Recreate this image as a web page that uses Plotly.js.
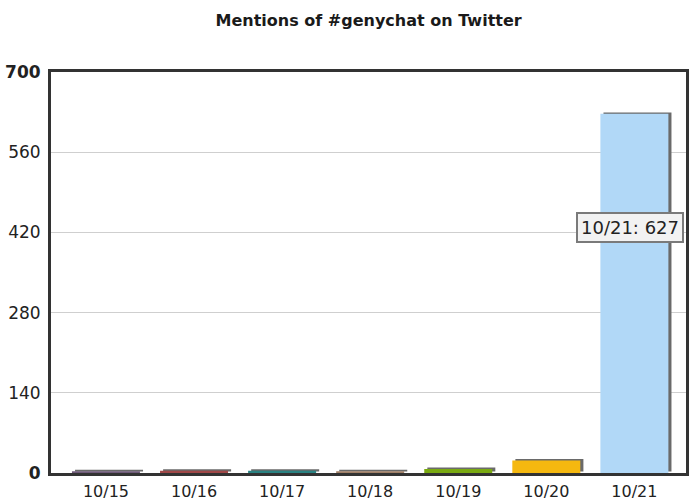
<!DOCTYPE html>
<html>
<head>
<meta charset="utf-8">
<script src="https://cdn.plot.ly/plotly-3.0.1.min.js"></script>
<style>html,body{margin:0;padding:0;background:#fff;}#chart{width:689px;height:502px;}</style>
</head>
<body>
<div id="chart"></div>
<script>
var categories = ["10/15", "10/16", "10/17", "10/18", "10/19", "10/20", "10/21"];
var mentions = [3, 4, 4, 3, 7, 22, 627];
var barColors = ["#6e5a78", "#a04848", "#2a8282", "#a08068", "#7aaa12", "#f5b80f", "#b1d8f7"];
var yTickVals = [0, 140, 280, 420, 560, 700];
var yTickText = ["<b>0</b>", "140", "280", "420", "560", "<b>700</b>"];
var tooltipText = categories[6] + ": " + mentions[6];

var barWidth = 0.772;
var shadow = {
  type: "bar", x: categories, y: mentions,
  base: 2.5, width: barWidth, offset: -barWidth / 2 + 0.035,
  marker: {color: "#6a6a6a"}, hoverinfo: "skip", showlegend: false
};
var bars = {
  type: "bar", x: categories, y: mentions,
  width: barWidth, offset: -barWidth / 2,
  marker: {color: barColors}, showlegend: false
};

var layout = {
  width: 689, height: 502,
  margin: {l: 51, r: 3, t: 72, b: 29, pad: 0},
  paper_bgcolor: "#fff", plot_bgcolor: "#fff",
  barmode: "overlay",
  title: {text: "<b>Mentions of #genychat on Twitter</b>", x: 0.535, xanchor: "center", y: 0.96, yanchor: "middle",
          font: {family: "DejaVu Sans", size: 16, color: "#1a1a1a"}},
  xaxis: {
    type: "category", range: [-0.624, 6.586],
    showgrid: false, zeroline: false,
    showline: true, mirror: true, linecolor: "#333", linewidth: 3,
    ticks: "", ticklabelstandoff: 2,
    tickfont: {family: "DejaVu Sans", size: 16, color: "#222"}
  },
  yaxis: {
    range: [0, 700], tickvals: yTickVals, ticktext: yTickText,
    showgrid: true, gridcolor: "#cfcfcf", gridwidth: 1, zeroline: false,
    showline: true, mirror: true, linecolor: "#333", linewidth: 3,
    ticks: "", ticklabelstandoff: 4,
    tickfont: {family: "DejaVu Sans", size: 17, color: "#222"}
  },
  annotations: [{
    text: tooltipText, xref: "paper", yref: "y", x: 0.826, y: 428,
    xanchor: "left", yanchor: "middle", showarrow: false,
    font: {family: "DejaVu Sans", size: 18, color: "#222"},
    bgcolor: "#f2f2f2", bordercolor: "#7a7a7a", borderwidth: 2, borderpad: 3
  }]
};

Plotly.newPlot("chart", [shadow, bars], layout, {displayModeBar: false, staticPlot: true});
</script>
</body>
</html>
